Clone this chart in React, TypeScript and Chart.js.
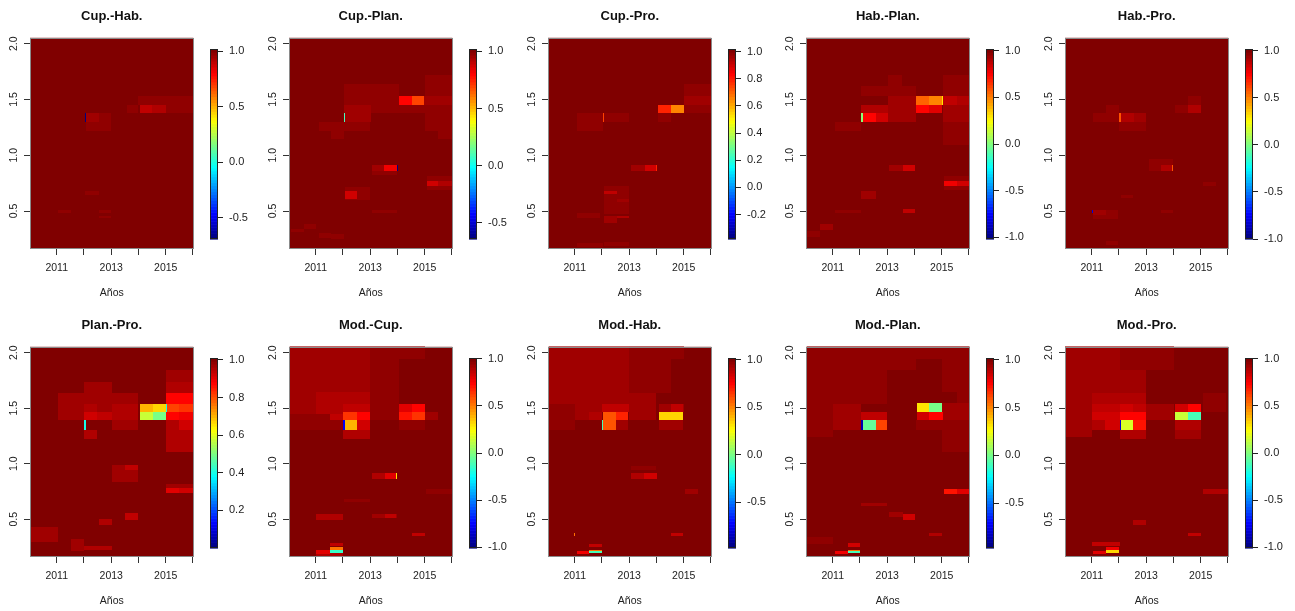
import React, { useEffect, useRef } from "react";
import { Chart, registerables } from "chart.js";
Chart.register(...registerables);

type Cell = [number, number, number, number, number]; // [year0, year1, period0, period1, value]

const titles = ["Cup.-Hab.", "Cup.-Plan.", "Cup.-Pro.", "Hab.-Plan.", "Hab.-Pro.", "Plan.-Pro.", "Mod.-Cup.", "Mod.-Hab.", "Mod.-Plan.", "Mod.-Pro."];

const cupHab: Cell[] = [
  [2014.0, 2015.0, 1.455, 1.535, 0.98], [2015.0, 2016.0, 1.38, 1.535, 0.98], [2013.58, 2014.0, 1.38, 1.455, 0.98],
  [2014.05, 2014.5, 1.38, 1.455, 0.9], [2014.5, 2015.0, 1.38, 1.455, 0.93], [2012.55, 2013.0, 1.22, 1.38, 0.98],
  [2012.07, 2012.55, 1.22, 1.295, 0.98], [2012.07, 2012.55, 1.295, 1.38, 0.94], [2012.04, 2012.07, 1.295, 1.38, -0.69],
  [2012.05, 2012.55, 0.645, 0.68, 0.98], [2011.05, 2011.53, 0.485, 0.51, 0.98], [2012.55, 2013.0, 0.485, 0.51, 0.98],
  [2012.55, 2013.0, 0.435, 0.46, 0.98],
];
const cupPlan: Cell[] = [
  [2012.04, 2014.06, 1.455, 1.635, 0.98], [2012.04, 2013.04, 1.38, 1.455, 0.96], [2013.04, 2014.06, 1.38, 1.455, 0.98],
  [2015.02, 2016.02, 1.455, 1.72, 0.98], [2015.02, 2016.02, 1.22, 1.455, 0.98], [2015.5, 2016.02, 1.15, 1.22, 0.98],
  [2014.06, 2015.02, 1.38, 1.455, 0.98], [2014.06, 2014.52, 1.455, 1.53, 0.79], [2014.52, 2014.96, 1.455, 1.53, 0.69],
  [2014.96, 2016.02, 1.455, 1.53, 0.96], [2012.08, 2012.56, 1.295, 1.455, 0.945], [2012.56, 2013.02, 1.295, 1.38, 0.96],
  [2011.12, 2012.04, 1.22, 1.295, 0.98], [2011.56, 2012.04, 1.15, 1.22, 0.98], [2012.04, 2012.98, 1.22, 1.295, 0.98],
  [2012.04, 2012.08, 1.295, 1.38, 0.11], [2013.08, 2013.52, 0.862, 0.913, 0.945], [2013.52, 2013.97, 0.862, 0.913, 0.82],
  [2013.97, 2014.01, 0.862, 0.913, -0.64], [2013.08, 2013.97, 0.82, 0.862, 0.98], [2015.08, 2016.02, 0.69, 0.815, 0.98],
  [2015.08, 2015.5, 0.727, 0.772, 0.88], [2015.5, 2016.02, 0.727, 0.772, 0.92], [2012.08, 2012.98, 0.6, 0.72, 0.98],
  [2012.08, 2012.52, 0.61, 0.68, 0.87], [2013.08, 2013.97, 0.48, 0.51, 0.98], [2010.1, 2010.58, 0.31, 0.34, 0.98],
  [2010.58, 2011.0, 0.34, 0.38, 0.98], [2011.12, 2011.56, 0.26, 0.3, 0.98], [2011.56, 2012.02, 0.25, 0.29, 0.97],
];
const cupPro: Cell[] = [
  [2015.02, 2016.03, 1.53, 1.635, 0.985], [2015.02, 2016.03, 1.455, 1.53, 0.97], [2015.02, 2016.03, 1.38, 1.455, 0.985],
  [2014.05, 2014.54, 1.295, 1.38, 0.985], [2014.05, 2014.54, 1.38, 1.455, 0.78], [2014.54, 2015.0, 1.38, 1.455, 0.66],
  [2011.08, 2012.03, 1.22, 1.38, 0.98], [2012.08, 2013.0, 1.295, 1.38, 0.985], [2012.03, 2012.08, 1.295, 1.38, 0.74],
  [2013.08, 2013.57, 0.862, 0.913, 0.96], [2013.57, 2013.99, 0.862, 0.913, 0.91], [2013.99, 2014.03, 0.862, 0.913, 0.8],
  [2012.08, 2013.0, 0.47, 0.727, 0.985], [2012.08, 2012.54, 0.65, 0.68, 0.92], [2012.54, 2013.0, 0.585, 0.61, 0.96],
  [2012.08, 2012.54, 0.39, 0.46, 0.97], [2012.54, 2013.0, 0.435, 0.46, 0.94], [2011.08, 2011.93, 0.435, 0.48, 0.985],
  [2011.08, 2012.03, 0.18, 0.21, 0.985], [2012.08, 2013.0, 0.19, 0.22, 0.985],
];
const habPlan: Cell[] = [
  [2012.05, 2014.05, 1.53, 1.625, 0.97], [2013.02, 2013.55, 1.625, 1.724, 0.97], [2012.05, 2013.02, 1.38, 1.455, 0.9],
  [2013.02, 2014.05, 1.295, 1.53, 0.95], [2012.12, 2012.58, 1.295, 1.38, 0.755], [2012.58, 2013.02, 1.295, 1.38, 0.84],
  [2012.05, 2012.12, 1.295, 1.38, 0.0], [2014.05, 2014.54, 1.455, 1.53, 0.55], [2014.54, 2015.0, 1.455, 1.53, 0.49],
  [2015.0, 2015.05, 1.455, 1.53, 0.31], [2014.05, 2014.54, 1.38, 1.455, 0.755], [2014.54, 2015.0, 1.38, 1.455, 0.82],
  [2015.05, 2016.05, 1.53, 1.724, 0.97], [2015.05, 2015.57, 1.455, 1.53, 0.88], [2015.57, 2016.05, 1.455, 1.53, 0.92],
  [2015.05, 2016.05, 1.295, 1.455, 0.94], [2015.05, 2016.05, 1.093, 1.295, 0.97], [2011.08, 2012.05, 1.22, 1.295, 0.97],
  [2013.08, 2013.57, 0.862, 0.913, 0.94], [2013.57, 2014.03, 0.862, 0.913, 0.84], [2015.08, 2016.02, 0.69, 0.814, 0.97],
  [2015.08, 2015.57, 0.727, 0.772, 0.77], [2015.57, 2016.02, 0.727, 0.772, 0.86], [2012.05, 2012.58, 0.61, 0.68, 0.94],
  [2013.57, 2014.03, 0.484, 0.523, 0.88], [2011.08, 2012.05, 0.48, 0.51, 0.97], [2010.05, 2010.54, 0.27, 0.32, 0.97],
  [2010.54, 2011.0, 0.33, 0.38, 0.95],
];
const habPro: Cell[] = [
  [2011.06, 2011.52, 1.295, 1.38, 0.97], [2011.52, 2012.0, 1.295, 1.455, 0.97], [2012.0, 2013.0, 1.22, 1.295, 0.97],
  [2012.0, 2012.55, 1.295, 1.38, 0.9], [2012.55, 2013.0, 1.295, 1.38, 0.93], [2012.0, 2012.07, 1.295, 1.38, 0.58],
  [2014.07, 2014.52, 1.38, 1.455, 0.97], [2014.52, 2015.0, 1.455, 1.535, 0.97], [2014.52, 2015.0, 1.38, 1.455, 0.9],
  [2013.1, 2013.97, 0.862, 0.964, 0.97], [2013.55, 2013.97, 0.862, 0.913, 0.9], [2013.95, 2014.0, 0.862, 0.913, 0.58],
  [2015.08, 2015.55, 0.727, 0.763, 0.96], [2011.06, 2011.97, 0.432, 0.514, 0.96], [2011.06, 2011.52, 0.462, 0.514, 0.93],
  [2011.02, 2011.06, 0.484, 0.514, -0.8], [2012.09, 2012.52, 0.613, 0.643, 0.97], [2013.55, 2013.97, 0.484, 0.51, 0.97],
  [2011.52, 2011.97, 0.2, 0.23, 0.97],
];
const planPro: Cell[] = [
  [2011.05, 2012.01, 1.39, 1.637, 0.975], [2012.01, 2013.04, 1.541, 1.736, 0.975], [2012.01, 2012.49, 1.465, 1.541, 0.955],
  [2012.49, 2013.04, 1.465, 1.541, 0.965], [2012.01, 2012.49, 1.39, 1.465, 0.92], [2012.49, 2013.04, 1.39, 1.465, 0.94],
  [2013.04, 2014.0, 1.541, 1.637, 0.965], [2013.04, 2014.0, 1.39, 1.541, 0.95], [2013.04, 2014.0, 1.306, 1.39, 0.975],
  [2014.06, 2014.54, 1.465, 1.541, 0.71], [2014.54, 2015.02, 1.465, 1.541, 0.67], [2014.06, 2014.54, 1.39, 1.465, 0.57],
  [2014.54, 2015.02, 1.39, 1.465, 0.5], [2015.02, 2015.05, 1.465, 1.541, 0.4], [2015.02, 2016.0, 1.736, 1.841, 0.975],
  [2015.02, 2016.0, 1.637, 1.736, 0.95], [2015.02, 2015.5, 1.541, 1.637, 0.87], [2015.5, 2016.0, 1.541, 1.637, 0.88],
  [2015.05, 2015.5, 1.465, 1.541, 0.81], [2015.5, 2016.0, 1.465, 1.541, 0.83], [2015.02, 2015.5, 1.39, 1.465, 0.87],
  [2015.5, 2016.0, 1.39, 1.465, 0.89], [2015.02, 2016.0, 1.105, 1.39, 0.96], [2015.5, 2016.0, 1.306, 1.39, 0.93],
  [2012.01, 2012.49, 1.225, 1.306, 0.95], [2012.01, 2012.07, 1.306, 1.39, 0.4], [2013.04, 2013.52, 0.94, 0.985, 0.965],
  [2013.52, 2014.0, 0.94, 0.985, 0.945], [2013.04, 2014.0, 0.835, 0.94, 0.975], [2015.02, 2015.5, 0.736, 0.784, 0.91],
  [2015.5, 2016.0, 0.736, 0.784, 0.93], [2015.02, 2016.0, 0.784, 0.82, 0.965], [2012.55, 2013.04, 0.444, 0.505, 0.95],
  [2013.52, 2014.0, 0.49, 0.556, 0.94], [2010.02, 2011.05, 0.294, 0.429, 0.965], [2011.53, 2012.01, 0.21, 0.32, 0.965],
  [2012.01, 2013.04, 0.22, 0.26, 0.95],
];
const modCup: Cell[] = [
  [2010.06, 2013.01, 1.571, 2.057, 0.94], [2010.06, 2011.02, 1.45, 1.571, 0.94], [2010.06, 2012.0, 1.306, 1.45, 0.96],
  [2011.02, 2013.01, 1.45, 1.646, 0.91], [2013.01, 2015.0, 1.946, 2.057, 0.96], [2013.01, 2014.04, 1.39, 1.946, 0.97],
  [2011.53, 2012.0, 1.39, 1.45, 0.87], [2012.0, 2013.01, 1.465, 1.541, 0.87], [2012.0, 2013.01, 1.225, 1.306, 0.91],
  [2012.0, 2012.53, 1.39, 1.465, 0.65], [2012.53, 2013.01, 1.39, 1.465, 0.73], [2012.07, 2012.53, 1.306, 1.39, 0.4],
  [2012.53, 2013.01, 1.306, 1.39, 0.85], [2012.01, 2012.07, 1.306, 1.39, -0.77], [2014.04, 2014.52, 1.465, 1.541, 0.81],
  [2014.04, 2014.52, 1.39, 1.465, 0.71], [2014.52, 2015.0, 1.465, 1.541, 0.75], [2014.52, 2015.0, 1.39, 1.465, 0.65],
  [2015.0, 2015.48, 1.39, 1.465, 0.93], [2014.04, 2015.0, 1.306, 1.39, 0.96], [2013.07, 2013.53, 0.865, 0.916, 0.91],
  [2013.53, 2013.95, 0.865, 0.916, 0.79], [2013.95, 2014.0, 0.865, 0.916, 0.3], [2015.06, 2016.02, 0.73, 0.775, 0.96],
  [2012.05, 2013.01, 0.655, 0.685, 0.95], [2011.02, 2012.0, 0.49, 0.55, 0.91], [2013.07, 2014.0, 0.514, 0.55, 0.93],
  [2013.53, 2013.95, 0.514, 0.55, 0.87], [2014.52, 2015.0, 0.345, 0.375, 0.87], [2011.53, 2012.0, 0.255, 0.285, 0.87],
  [2011.02, 2012.0, 0.165, 0.195, 0.91], [2011.02, 2011.53, 0.183, 0.219, 0.81], [2011.53, 2012.0, 0.22, 0.25, 0.525],
  [2011.53, 2012.0, 0.195, 0.22, -0.14],
];
const modHab: Cell[] = [
  [2010.06, 2013.01, 1.541, 2.057, 0.95], [2010.06, 2011.02, 1.306, 1.541, 0.97], [2013.01, 2014.52, 1.637, 2.057, 0.97],
  [2014.52, 2015.0, 1.946, 2.057, 0.97], [2011.02, 2012.0, 1.465, 1.541, 0.93], [2011.02, 2012.0, 1.39, 1.465, 0.95],
  [2011.51, 2012.0, 1.39, 1.465, 0.9], [2012.0, 2013.01, 1.541, 1.637, 0.93], [2012.0, 2013.01, 1.465, 1.541, 0.88],
  [2012.02, 2012.51, 1.306, 1.465, 0.6], [2012.51, 2012.95, 1.39, 1.465, 0.7], [2012.51, 2012.95, 1.306, 1.39, 0.95],
  [2012.0, 2012.02, 1.306, 1.39, -0.08], [2013.01, 2014.0, 1.465, 1.637, 0.94], [2013.01, 2014.0, 1.39, 1.465, 0.95],
  [2014.1, 2015.0, 1.465, 1.541, 0.94], [2014.52, 2014.96, 1.465, 1.541, 0.88], [2014.1, 2014.52, 1.39, 1.465, 0.35],
  [2014.52, 2014.96, 1.39, 1.465, 0.34], [2014.1, 2014.96, 1.306, 1.39, 0.94], [2013.07, 2013.98, 0.94, 0.976, 0.96],
  [2013.07, 2013.55, 0.865, 0.916, 0.9], [2013.55, 2014.01, 0.865, 0.916, 0.84], [2015.04, 2015.54, 0.73, 0.769, 0.94],
  [2014.52, 2014.96, 0.345, 0.375, 0.88], [2011.51, 2012.0, 0.249, 0.279, 0.88], [2011.08, 2011.51, 0.189, 0.213, 0.78],
  [2011.51, 2012.0, 0.213, 0.225, 0.52], [2011.51, 2012.0, 0.195, 0.213, -0.08], [2010.96, 2011.0, 0.345, 0.375, 0.52],
];
const modPlan: Cell[] = [
  [2010.05, 2014.05, 1.841, 2.057, 0.96], [2010.05, 2013.0, 1.541, 1.841, 0.96], [2014.05, 2015.02, 1.946, 2.057, 0.96],
  [2015.02, 2016.05, 1.646, 2.057, 0.96], [2010.05, 2011.02, 1.24, 1.541, 0.97], [2011.02, 2012.05, 1.306, 1.541, 0.93],
  [2012.05, 2013.0, 1.39, 1.465, 0.88], [2012.12, 2012.58, 1.306, 1.39, -0.015], [2012.58, 2013.0, 1.306, 1.39, 0.62],
  [2012.05, 2012.12, 1.306, 1.39, -0.87], [2014.05, 2016.05, 1.3, 1.39, 0.96], [2015.02, 2016.05, 1.105, 1.3, 0.97],
  [2015.02, 2016.05, 1.39, 1.547, 0.95], [2015.57, 2016.05, 1.547, 1.646, 0.96], [2014.09, 2014.54, 1.465, 1.547, 0.32],
  [2014.54, 2015.0, 1.465, 1.547, 0.01], [2014.09, 2014.54, 1.39, 1.465, 0.84], [2014.54, 2015.05, 1.39, 1.465, 0.77],
  [2015.08, 2015.57, 0.73, 0.775, 0.74], [2015.57, 2016.05, 0.73, 0.775, 0.82], [2013.57, 2014.03, 0.49, 0.55, 0.86],
  [2013.08, 2013.57, 0.52, 0.565, 0.95], [2012.05, 2013.0, 0.619, 0.649, 0.95], [2011.57, 2012.0, 0.249, 0.285, 0.84],
  [2011.08, 2011.57, 0.183, 0.213, 0.78], [2011.57, 2012.0, 0.213, 0.225, 0.54], [2011.57, 2012.0, 0.195, 0.213, -0.07],
  [2010.05, 2011.02, 0.279, 0.339, 0.96], [2014.54, 2015.0, 0.345, 0.375, 0.92],
];
const modPro: Cell[] = [
  [2010.03, 2012.03, 1.631, 2.057, 0.94], [2012.03, 2013.0, 1.631, 1.841, 0.94], [2010.03, 2011.0, 1.24, 1.631, 0.94],
  [2012.03, 2014.03, 1.841, 2.057, 0.96], [2013.0, 2014.03, 1.24, 1.841, 0.98], [2011.0, 2013.0, 1.541, 1.637, 0.91],
  [2011.0, 2012.03, 1.465, 1.541, 0.87], [2011.0, 2012.03, 1.39, 1.465, 0.83], [2011.0, 2011.48, 1.306, 1.39, 0.89],
  [2011.48, 2012.03, 1.306, 1.39, 0.85], [2012.03, 2012.52, 1.465, 1.541, 0.85], [2012.03, 2012.52, 1.39, 1.465, 0.73],
  [2012.52, 2013.0, 1.465, 1.541, 0.87], [2012.52, 2013.0, 1.39, 1.465, 0.75], [2012.07, 2012.52, 1.306, 1.39, 0.16],
  [2012.52, 2012.98, 1.306, 1.39, 0.71], [2012.03, 2012.07, 1.306, 1.39, -0.85], [2012.03, 2013.0, 1.225, 1.306, 0.91],
  [2013.0, 2014.03, 1.39, 1.541, 0.93], [2014.07, 2014.52, 1.465, 1.541, 0.85], [2014.07, 2014.52, 1.39, 1.465, 0.14],
  [2014.52, 2015.0, 1.465, 1.541, 0.73], [2014.52, 2015.0, 1.39, 1.465, -0.12], [2014.07, 2015.0, 1.306, 1.39, 0.89],
  [2014.07, 2015.0, 1.225, 1.306, 0.93], [2015.08, 2015.91, 1.465, 1.637, 0.95], [2015.08, 2016.03, 0.73, 0.775, 0.91],
  [2011.0, 2012.03, 0.255, 0.294, 0.87], [2011.06, 2011.52, 0.183, 0.213, 0.81], [2011.52, 2011.99, 0.225, 0.249, 0.77],
  [2011.52, 2011.99, 0.195, 0.219, 0.32], [2014.52, 2015.0, 0.345, 0.375, 0.87], [2012.52, 2013.0, 0.444, 0.49, 0.89],
];

const panelCells = [cupHab, cupPlan, cupPro, habPlan, habPro, planPro, modCup, modHab, modPlan, modPro];
const cbMins = [-0.69, -0.64, -0.38, -1.02, -1.0, 0.0, -1.01, -0.98, -0.97, -1.01];
const cbMaxs = [1.02, 1.02, 1.02, 1.02, 1.02, 1.01, 1.01, 1.02, 1.02, 1.01];
const cbTicksA = [-0.5, 0, 0.5, 1];
const cbTicksB = [-1, -0.5, 0, 0.5, 1];
const cbTicksC = [-0.2, 0, 0.2, 0.4, 0.6, 0.8, 1];
const cbTicksD = [0.2, 0.4, 0.6, 0.8, 1];
const cbTicks = [cbTicksA, cbTicksA, cbTicksC, cbTicksB, cbTicksB, cbTicksD, cbTicksB, cbTicksA, cbTicksA, cbTicksB];
const xTicks = [2011, 2012, 2013, 2014, 2015, 2016];
const xLabelled = [2011, 2013, 2015];
const yTicks = [0.5, 1.0, 1.5, 2.0];

const FONT = '"Liberation Sans", Arial, Helvetica, sans-serif';
const COLS = [0, 259, 518, 776, 1035];
const ROWS = [0, 309];
const ROW_H = [305, 302];
const PLOT_BOTTOM = [249, 248];

function jet(t: number): string {
  const k = Math.max(0, Math.min(63, Math.floor(t * 64)));
  const u = k / 63;
  const c = (x: number) => Math.round(255 * Math.max(0, Math.min(1, x)));
  return `rgb(${c(1.5 - Math.abs(4 * u - 3))},${c(1.5 - Math.abs(4 * u - 2))},${c(1.5 - Math.abs(4 * u - 1))})`;
}

function Panel({ idx }: { idx: number }) {
  const mainRef = useRef<HTMLCanvasElement>(null);
  const barRef = useRef<HTMLCanvasElement>(null);
  const row = Math.floor(idx / 5);
  const col = idx % 5;
  const H = ROW_H[row];

  useEffect(() => {
    const cells = panelCells[idx];
    const lo = cbMins[idx];
    const hi = cbMaxs[idx];
    const colorOf = (v: number) => jet((v - lo) / (hi - lo));
    const tickFont = { family: FONT, size: 10.5 };

    const heat = {
      id: "heat",
      beforeDatasetsDraw(chart: any) {
        const { ctx, chartArea: a, scales } = chart;
        const xs = scales.x, ys = scales.y;
        ctx.save();
        ctx.beginPath();
        ctx.rect(a.left, a.top, a.right - a.left, a.bottom - a.top);
        ctx.clip();
        ctx.fillStyle = colorOf(hi);
        ctx.fillRect(a.left, a.top, a.right - a.left, a.bottom - a.top);
        for (const [x0, x1, y0, y1, v] of cells) {
          const px0 = Math.round(xs.getPixelForValue(x0));
          const px1 = Math.round(xs.getPixelForValue(x1));
          const py0 = Math.round(ys.getPixelForValue(y1));
          const py1 = Math.round(ys.getPixelForValue(y0));
          ctx.fillStyle = colorOf(v);
          ctx.fillRect(px0, py0, Math.max(1, px1 - px0), py1 - py0);
        }
        ctx.restore();
      },
      afterDatasetsDraw(chart: any) {
        const { ctx, chartArea: a } = chart;
        ctx.save();
        ctx.strokeStyle = "#8a8a8a";
        ctx.lineWidth = 1;
        ctx.strokeRect(Math.round(a.left) + 0.5, Math.round(a.top) + 0.5, Math.round(a.right - a.left) - 1, Math.round(a.bottom - a.top) - 1);
        ctx.restore();
      },
    };

    const main = new Chart(mainRef.current as HTMLCanvasElement, {
      type: "scatter",
      data: { datasets: [{ data: [] }] },
      options: {
        animation: false,
        responsive: false,
        layout: { padding: { left: 0, right: 5, top: 0, bottom: 0 } },
        plugins: {
          legend: { display: false },
          tooltip: { enabled: false },
          title: {
            display: true,
            fullSize: false,
            text: titles[idx],
            color: "#111",
            font: { family: FONT, size: 13, weight: "bold" },
            padding: { top: 9, bottom: 13 },
          },
        },
        scales: {
          x: {
            type: "linear",
            min: 2010.02,
            max: 2016.02,
            afterBuildTicks: (s: any) => { s.ticks = xTicks.map((v) => ({ value: v })); },
            afterFit: (s: any) => { s.height = H - PLOT_BOTTOM[row]; },
            ticks: {
              autoSkip: false, maxRotation: 0, minRotation: 0, padding: 7, color: "#222", font: tickFont,
              callback: (v: any) => (xLabelled.includes(Number(v)) ? String(v) : ""),
            },
            grid: { drawOnChartArea: false, drawTicks: true, tickLength: 6, color: "#333" },
            border: { display: false },
            title: { display: true, text: "Años", color: "#222", font: tickFont, padding: { top: 0, bottom: row === 0 ? 6 : 4 } },
          },
          y: {
            type: "linear",
            min: 0.16,
            max: 2.055,
            afterBuildTicks: (s: any) => { s.ticks = yTicks.map((v) => ({ value: v })); },
            afterFit: (s: any) => { s.width = 30; },
            ticks: {
              minRotation: 90, maxRotation: 90, crossAlign: "center", padding: 3, color: "#222", font: tickFont,
              callback: (v: any) => Number(v).toFixed(1),
            },
            grid: { drawOnChartArea: false, drawTicks: true, tickLength: 6, color: "#333" },
            border: { display: false },
          },
        },
      } as any,
      plugins: [heat as any],
    });

    const bandPlugin = {
      id: "bands",
      beforeDatasetsDraw(chart: any) {
        const { ctx, chartArea: a, scales } = chart;
        const ys = scales.y;
        ctx.save();
        for (let k = 0; k < 64; k++) {
          const v0 = lo + (k / 64) * (hi - lo);
          const v1 = lo + ((k + 1) / 64) * (hi - lo);
          const p0 = ys.getPixelForValue(v0);
          const p1 = ys.getPixelForValue(v1);
          ctx.fillStyle = jet((k + 0.5) / 64);
          ctx.fillRect(a.left, p1, a.right - a.left, p0 - p1 + 0.6);
        }
        ctx.strokeStyle = "#222";
        ctx.lineWidth = 1;
        ctx.strokeRect(Math.round(a.left) + 0.5, Math.round(a.top) + 0.5, Math.round(a.right - a.left) - 1, Math.round(a.bottom - a.top) - 1);
        ctx.restore();
      },
    };

    const bar = new Chart(barRef.current as HTMLCanvasElement, {
      type: "scatter",
      data: { datasets: [{ data: [] }] },
      options: {
        animation: false,
        responsive: false,
        layout: { padding: { left: 10, right: 0, top: 49, bottom: H - 239 } },
        plugins: { legend: { display: false }, tooltip: { enabled: false } },
        scales: {
          x: { display: false, min: 0, max: 1 },
          y: {
            type: "linear",
            position: "right",
            min: lo,
            max: hi,
            afterBuildTicks: (s: any) => { s.ticks = cbTicks[idx].map((v) => ({ value: v })); },
            afterFit: (s: any) => { s.width = 41; },
            ticks: { padding: 6, color: "#222", font: { family: FONT, size: 11 }, callback: (v: any) => Number(v).toFixed(1) },
            grid: { drawOnChartArea: false, drawTicks: true, tickLength: 5, color: "#222" },
            border: { display: false },
          },
        },
      } as any,
      plugins: [bandPlugin as any],
    });

    return () => {
      main.destroy();
      bar.destroy();
    };
  }, [idx]);

  return (
    <>
      <canvas ref={mainRef} width={200} height={H} style={{ position: "absolute", left: COLS[col], top: ROWS[row], width: 200, height: H }} />
      <canvas ref={barRef} width={59} height={H} style={{ position: "absolute", left: COLS[col] + 200, top: ROWS[row], width: 59, height: H }} />
    </>
  );
}

export default function App() {
  useEffect(() => {
    document.body.style.margin = "0";
  }, []);
  return (
    <div style={{ position: "relative", width: 1295, height: 611, background: "#fff", overflow: "hidden" }}>
      {titles.map((_, i) => (
        <Panel key={i} idx={i} />
      ))}
    </div>
  );
}
